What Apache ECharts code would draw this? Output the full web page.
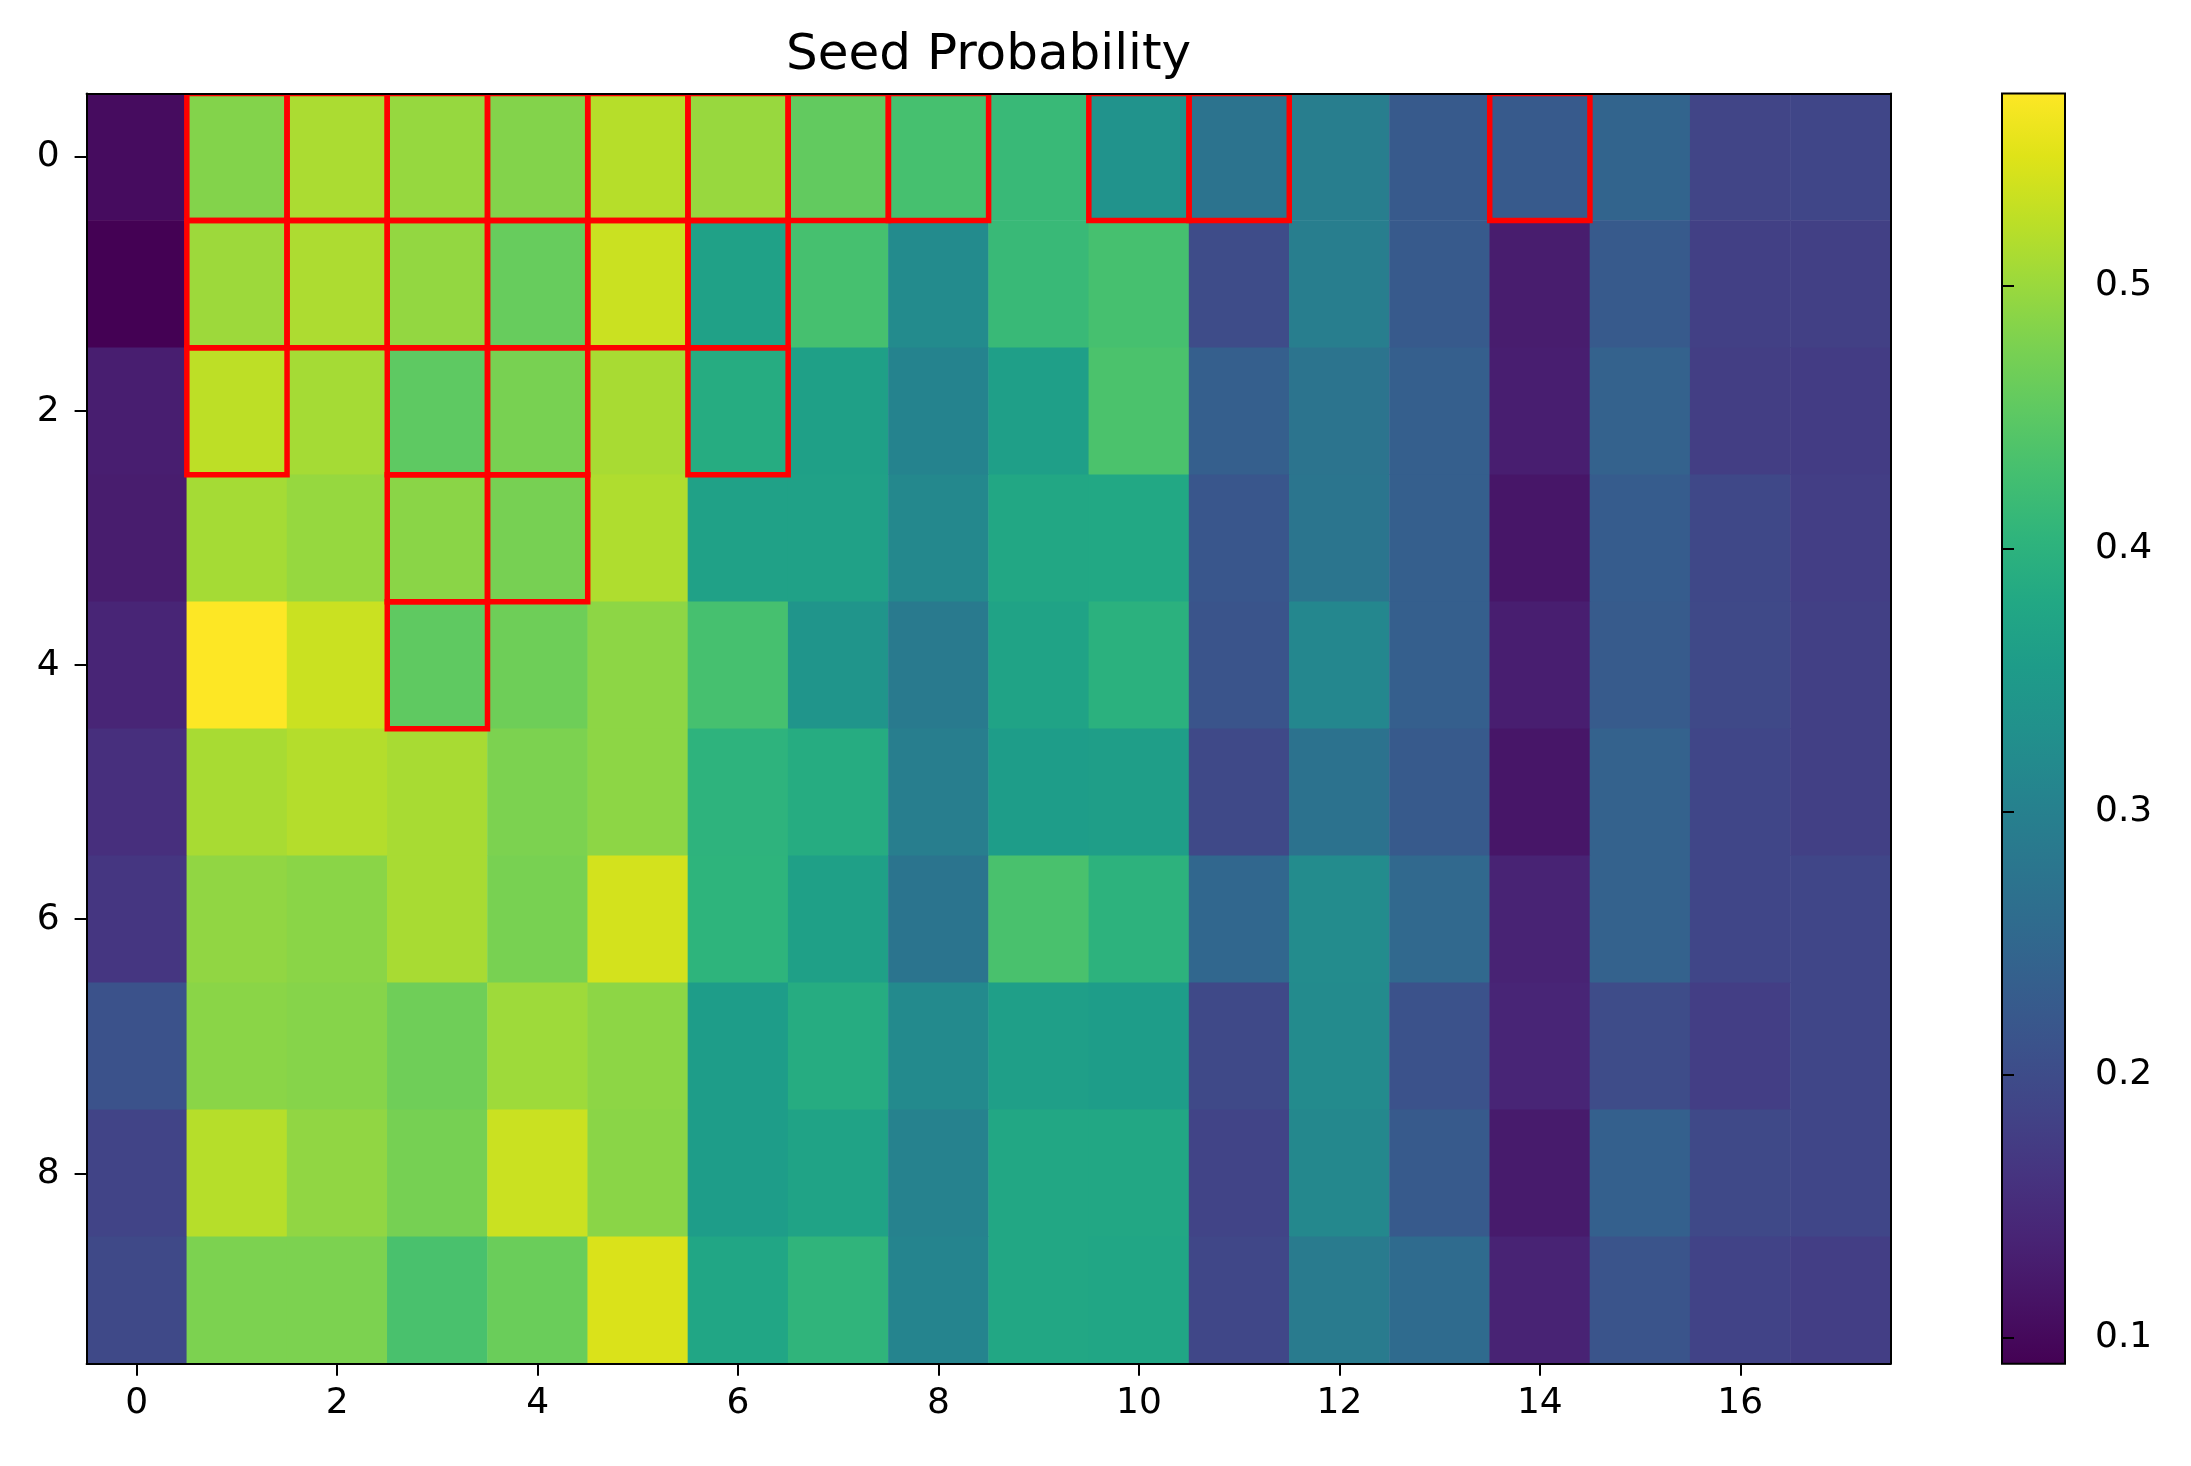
<!DOCTYPE html>
<html>
<head>
<meta charset="utf-8">
<script src="https://cdn.jsdelivr.net/npm/echarts@6/dist/echarts.min.js"></script>
<style>html,body{margin:0;padding:0;background:#fff;}#c{width:2191px;height:1466px;}</style>
</head>
<body>
<div id="c"></div>
<script>
// ---- data ----
const xLabels = ['0','1','2','3','4','5','6','7','8','9','10','11','12','13','14','15','16','17'];
const yLabels = ['0','1','2','3','4','5','6','7','8','9'];
const row0 = [0.105,0.483,0.512,0.497,0.483,0.520,0.498,0.456,0.430,0.415,0.335,0.274,0.295,0.225,0.225,0.245,0.188,0.190];
const row1 = [0.090,0.502,0.513,0.495,0.460,0.534,0.366,0.430,0.320,0.415,0.430,0.200,0.295,0.225,0.128,0.225,0.180,0.180];
const row2 = [0.130,0.525,0.508,0.452,0.475,0.510,0.388,0.363,0.305,0.362,0.435,0.235,0.275,0.235,0.130,0.240,0.177,0.175];
const row3 = [0.128,0.508,0.497,0.488,0.474,0.515,0.365,0.365,0.314,0.378,0.380,0.218,0.277,0.235,0.118,0.230,0.193,0.178];
const row4 = [0.140,0.573,0.534,0.453,0.466,0.490,0.430,0.340,0.287,0.370,0.397,0.215,0.313,0.235,0.130,0.228,0.195,0.180];
const row5 = [0.155,0.510,0.518,0.510,0.478,0.490,0.402,0.388,0.295,0.357,0.360,0.195,0.272,0.225,0.118,0.240,0.190,0.180];
const row6 = [0.165,0.493,0.488,0.510,0.475,0.540,0.403,0.363,0.276,0.433,0.400,0.250,0.322,0.253,0.137,0.240,0.190,0.190];
const row7 = [0.211,0.488,0.485,0.467,0.503,0.490,0.358,0.388,0.318,0.362,0.358,0.195,0.320,0.211,0.140,0.200,0.178,0.190];
const row8 = [0.187,0.520,0.493,0.473,0.534,0.488,0.358,0.370,0.303,0.378,0.378,0.187,0.315,0.225,0.125,0.237,0.195,0.190];
const row9 = [0.195,0.478,0.478,0.433,0.463,0.545,0.375,0.405,0.307,0.378,0.375,0.192,0.290,0.258,0.137,0.215,0.185,0.178];
const rows = [row0,row1,row2,row3,row4,row5,row6,row7,row8,row9];
// highlighted cells [column, row]
const outlined = [[1,0],[2,0],[3,0],[4,0],[5,0],[6,0],[7,0],[8,0],[10,0],[11,0],[14,0],
  [1,1],[2,1],[3,1],[4,1],[5,1],[6,1],
  [1,2],[3,2],[4,2],[6,2],
  [3,3],[4,3],
  [3,4]];
const colorbarTicks = [0.1,0.2,0.3,0.4,0.5];
const viridis = ['#440154','#471365','#482475','#463480','#414487','#3b528b','#355f8d','#2f6c8e','#2a788e','#25848e','#21918c','#1e9c89','#22a884','#2fb47c','#44bf70','#5ec962','#7ad151','#9bd93c','#bddf26','#dfe318','#fde725'];

// ---- build ----
const heat = [];
rows.forEach((r, yi) => r.forEach((v, xi) => heat.push([xi, yi, v])));
const allVals = rows.flat();
const vMin = Math.min(...allVals), vMax = Math.max(...allVals);

const FONT = 'DejaVu Sans';
const chart = echarts.init(document.getElementById('c'), null, {renderer: 'canvas'});
const gridL = 86.6, gridR = 2191 - 1890.6, gridT = 93.6, gridB = 1466 - 1363.8;

const axisLineStyle = {color: '#000', width: 2};
chart.setOption({
  backgroundColor: '#fff',
  animation: false,
  title: {
    text: 'Seed Probability',
    left: 786, top: 31, padding: 0,
    textStyle: {fontFamily: FONT, fontSize: 50, fontWeight: 'normal', color: '#000'}
  },
  grid: [
    {left: gridL, right: gridR, top: gridT, bottom: gridB, containLabel: false},
    {left: 2002, width: 63, top: gridT, bottom: gridB, containLabel: false}
  ],
  xAxis: [
    {type: 'category', gridIndex: 0, data: xLabels, position: 'bottom', z: 10,
     axisLine: {show: true, lineStyle: axisLineStyle},
     axisTick: {show: true, interval: 1, alignWithLabel: true, length: 12, lineStyle: {color: '#000', width: 2}},
     axisLabel: {show: true, interval: 1, margin: 22, fontFamily: FONT, fontSize: 36, color: '#000'},
     splitLine: {show: false}},
    {type: 'category', gridIndex: 0, data: xLabels, position: 'top', z: 10,
     axisLine: {show: true, lineStyle: axisLineStyle}, axisTick: {show: false}, axisLabel: {show: false}},
    {type: 'value', gridIndex: 1, min: 0, max: 1, show: false}
  ],
  yAxis: [
    {type: 'category', gridIndex: 0, data: yLabels, inverse: true, position: 'left', z: 10,
     axisLine: {show: true, lineStyle: axisLineStyle},
     axisTick: {show: true, interval: 1, alignWithLabel: true, length: 12, lineStyle: {color: '#000', width: 2}},
     axisLabel: {show: true, interval: 1, margin: 27, fontFamily: FONT, fontSize: 36, color: '#000'},
     splitLine: {show: false}},
    {type: 'category', gridIndex: 0, data: yLabels, inverse: true, position: 'right', z: 10,
     axisLine: {show: true, lineStyle: axisLineStyle}, axisTick: {show: false}, axisLabel: {show: false}},
    {type: 'value', gridIndex: 1, min: vMin, max: vMax, position: 'right', z: 10,
     axisLine: {show: false},
     axisTick: {show: true, customValues: colorbarTicks, length: 12, lineStyle: {color: '#000', width: 2}},
     axisLabel: {show: true, customValues: colorbarTicks, margin: 30, fontFamily: FONT, fontSize: 36, color: '#000',
                 formatter: v => v.toFixed(1)},
     splitLine: {show: false}}
  ],
  visualMap: {
    show: false, type: 'continuous', seriesIndex: 0, dimension: 2,
    min: vMin, max: vMax, inRange: {color: viridis}
  },
  series: [
    {type: 'heatmap', xAxisIndex: 0, yAxisIndex: 0, data: heat, progressive: 0,
     itemStyle: {borderWidth: 0}, emphasis: {disabled: true}},
    {type: 'custom', xAxisIndex: 0, yAxisIndex: 0, data: outlined, clip: true, z: 5, silent: true,
     renderItem: function (params, api) {
       const c = api.coord([api.value(0), api.value(1)]);
       const s = api.size([1, 1]);
       return {type: 'rect', shape: {x: c[0] - s[0] / 2, y: c[1] - s[1] / 2, width: s[0], height: s[1]},
               style: {fill: null, stroke: '#ff0000', lineWidth: 5.5}};
     }},
    {type: 'custom', xAxisIndex: 2, yAxisIndex: 2, data: [[0, vMin, vMax]], silent: true, z: 3,
     renderItem: function (params, api) {
       const p0 = api.coord([0, api.value(2)]);
       const p1 = api.coord([1, api.value(1)]);
       const stops = viridis.map((col, i) => ({offset: i / (viridis.length - 1), color: col}));
       return {type: 'rect', shape: {x: p0[0], y: p0[1], width: p1[0] - p0[0], height: p1[1] - p0[1]},
               style: {fill: new echarts.graphic.LinearGradient(0, 1, 0, 0, stops), stroke: '#000', lineWidth: 2}};
     }}
  ]
});
</script>
</body>
</html>
